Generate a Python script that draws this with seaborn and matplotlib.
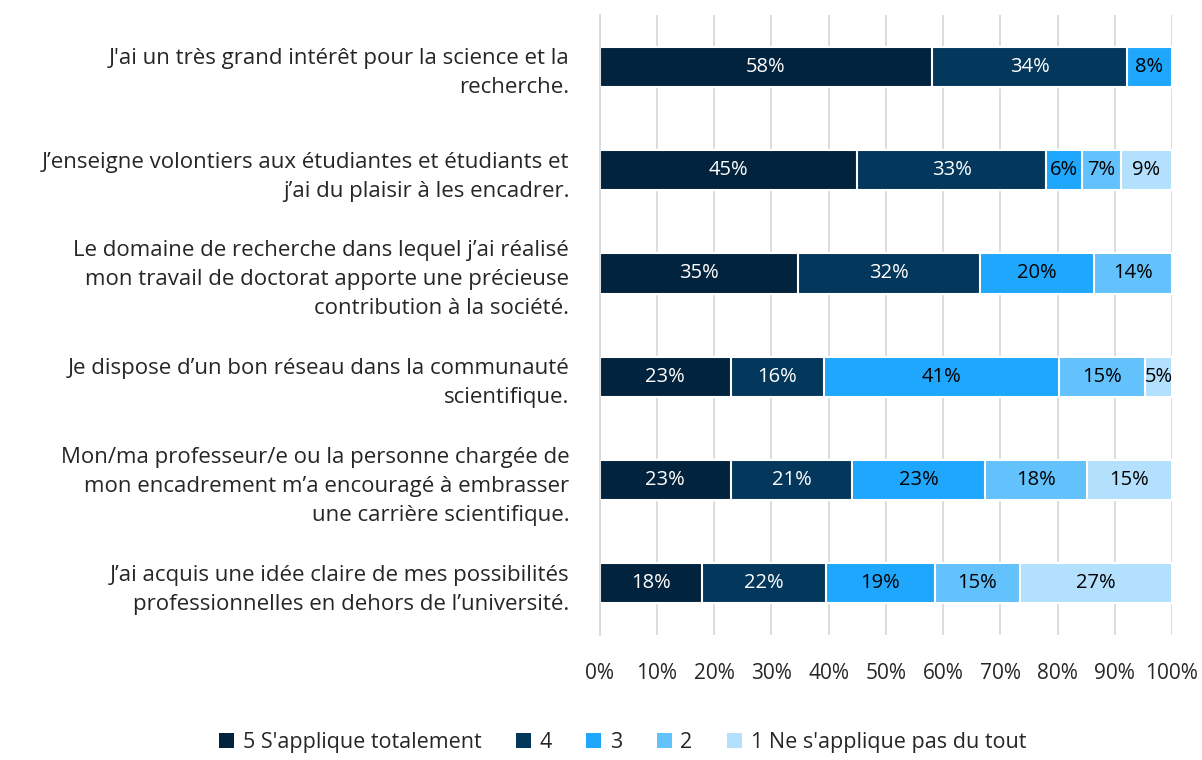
import numpy as np
import pandas as pd
import seaborn as sns
import matplotlib.pyplot as plt
from matplotlib.patches import Patch

# Affirmations (libellés déjà découpés comme dans l'original)
categories = [
    "J'ai un très grand intérêt pour la science et la\nrecherche.",
    "J’enseigne volontiers aux étudiantes et étudiants et\nj’ai du plaisir à les encadrer.",
    "Le domaine de recherche dans lequel j’ai réalisé\nmon travail de doctorat apporte une précieuse\ncontribution à la société.",
    "Je dispose d’un bon réseau dans la communauté\nscientifique.",
    "Mon/ma professeur/e ou la personne chargée de\nmon encadrement m’a encouragé à embrasser\nune carrière scientifique.",
    "J’ai acquis une idée claire de mes possibilités\nprofessionnelles en dehors de l’université.",
]
series = ["5 S'applique totalement", "4", "3", "2", "1 Ne s'applique pas du tout"]

s5 = [58.1, 45.0, 34.7, 22.9, 22.9, 17.9]
s4 = [34.0, 33.0, 31.8, 16.2, 21.2, 21.7]
s3 = [7.9, 6.2, 19.8, 41.1, 23.2, 18.9]
s2 = [0.0, 6.9, 13.7, 15.1, 17.8, 14.9]
s1 = [0.0, 8.9, 0.0, 4.7, 14.9, 26.6]

colors = ["#02233d", "#03375c", "#1ea7fd", "#63c1fc", "#b3e0fd"]
txt_colors = ["white", "white", "black", "black", "black"]

sns.set_theme(style="white")
plt.rcParams["font.family"] = ["Open Sans", "DejaVu Sans"]

vals = np.array([s5, s4, s3, s2, s1]).T
cum = vals.cumsum(axis=1)

fig = plt.figure(figsize=(12.02, 7.6), dpi=100)
ax = fig.add_axes([0.499, 0.1645, 0.476, 0.8155])

# barres empilées : on trace les cumuls du plus grand au plus petit
for i in reversed(range(5)):
    df = pd.DataFrame({"cat": categories, "val": cum[:, i]})
    sns.barplot(data=df, x="val", y="cat", color=colors[i], orient="h",
                width=0.39, edgecolor="white", linewidth=1.5, saturation=1, ax=ax)

for r in range(len(categories)):
    for i in range(5):
        v = vals[r, i]
        if v <= 0:
            continue
        ax.text(cum[r, i] - v / 2, r, f"{v:.0f}%", ha="center", va="center",
                fontsize=14.5, color=txt_colors[i])

ax.set_xlim(0, 100)
ax.set_ylim(5.5, -0.5)
ax.set_xticks(np.arange(0, 101, 10))
ax.set_xticklabels([f"{t}%" for t in range(0, 101, 10)], fontsize=15)
ax.tick_params(axis="x", length=0, pad=20)
ax.tick_params(axis="y", length=0, pad=22)
for lab in ax.get_yticklabels():
    lab.set_fontsize(16)
    lab.set_linespacing(1.5)
ax.set_xlabel("")
ax.set_ylabel("")
ax.grid(axis="x", color="#d9d9d9", linewidth=1.3)
ax.set_axisbelow(True)
for s in ["top", "right", "bottom"]:
    ax.spines[s].set_visible(False)
ax.spines["left"].set_color("#d9d9d9")
ax.spines["left"].set_linewidth(1.3)

handles = [Patch(facecolor=c, edgecolor="none", label=l) for c, l in zip(colors, series)]
fig.legend(handles=handles, loc="lower center", bbox_to_anchor=(0.518, -0.016), ncol=5,
           frameon=False, fontsize=15.5, handlelength=0.7, handleheight=0.7,
           handletextpad=0.4, columnspacing=1.6)

fig.savefig("out.png", dpi=100)
